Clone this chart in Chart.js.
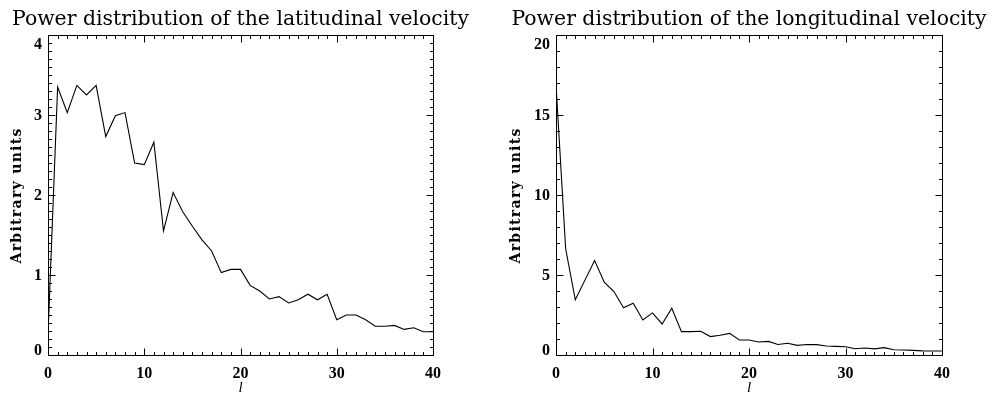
<!DOCTYPE html>
<html><head><meta charset="utf-8">
<script src="https://cdn.jsdelivr.net/npm/chart.js@4"></script>
<style>
html,body{margin:0;padding:0;background:#fff;width:994px;height:401px;overflow:hidden}
canvas{position:absolute;top:0}
</style></head><body>
<canvas id="c1" width="497" height="401" style="left:0"></canvas>
<canvas id="c2" width="497" height="401" style="left:497px"></canvas>
<script>
// ---- data ----
const degrees = [0,1,2,3,4,5,6,7,8,9,10,11,12,13,14,15,16,17,18,19,20,21,22,23,24,25,26,27,28,29,30,31,32,33,34,35,36,37,38,39,40];
const latPower = [0.25,3.35,3.03,3.37,3.25,3.37,2.73,2.99,3.03,2.40,2.38,2.66,1.55,2.03,1.79,1.61,1.44,1.30,1.03,1.07,1.07,0.87,0.80,0.70,0.73,0.65,0.69,0.76,0.69,0.76,0.44,0.50,0.50,0.44,0.36,0.36,0.37,0.32,0.34,0.29,0.29];
const lonPower = [16.9,6.64,3.45,4.68,5.91,4.55,3.97,2.95,3.24,2.19,2.63,1.94,2.92,1.46,1.46,1.48,1.15,1.23,1.35,0.94,0.94,0.81,0.85,0.66,0.73,0.60,0.66,0.65,0.56,0.54,0.52,0.39,0.44,0.38,0.46,0.33,0.31,0.29,0.26,0.25,0.25];
const xTickLabels = [0,10,20,30,40];
const latTickLabels = [0,1,2,3,4];
const lonTickLabels = [0,5,10,15,20];
const latTitle = 'Power distribution of the latitudinal velocity';
const lonTitle = 'Power distribution of the longitudinal velocity';
const yAxisTitle = 'Arbitrary units';
const xAxisTitle = 'l';

const SERIF = "'DejaVu Serif', serif";
const TIMES = "'Liberation Serif', serif";

const framePlugin = {
  id: 'frame',
  afterDraw(chart, args, opts) {
    const {ctx, chartArea: {left, right, top, bottom}, scales: {x, y}} = chart;
    const L = Math.round(left) + 0.5, R = Math.round(right) + 0.5;
    const T = Math.round(top) + 0.5, B = Math.round(bottom) + 0.5;
    ctx.save();
    ctx.strokeStyle = '#000';
    ctx.lineWidth = 1;
    ctx.beginPath();
    ctx.rect(L, T, R - L, B - T);
    const nx = Math.round((x.max - x.min) / opts.xMinor);
    for (let i = 0; i <= nx; i++) {
      const v = x.min + i * opts.xMinor;
      const major = Math.abs(v / opts.xMajor - Math.round(v / opts.xMajor)) < 1e-6;
      const len = major ? opts.majorLen : opts.minorLen;
      const px = Math.round(x.getPixelForValue(v)) + 0.5;
      ctx.moveTo(px, B); ctx.lineTo(px, B - len);
      ctx.moveTo(px, T); ctx.lineTo(px, T + len);
    }
    const ny = Math.round((y.max - y.min) / opts.yMinor);
    for (let i = 0; i <= ny; i++) {
      const v = y.min + i * opts.yMinor;
      const major = Math.abs(v / opts.yMajor - Math.round(v / opts.yMajor)) < 1e-6;
      const len = major ? opts.majorLen : opts.minorLen;
      const py = Math.round(y.getPixelForValue(v)) + 0.5;
      ctx.moveTo(L, py); ctx.lineTo(L + len, py);
      ctx.moveTo(R, py); ctx.lineTo(R - len, py);
    }
    ctx.stroke();
    ctx.fillStyle = '#000';
    // chart title, centred over the plot frame
    ctx.font = '20.4px ' + SERIF;
    ctx.textAlign = 'center';
    ctx.textBaseline = 'middle';
    ctx.fillText(opts.title, (left + right) / 2, 19.5);
    // y tick labels (end labels kept inside the frame like the original)
    ctx.font = 'bold 16px ' + TIMES;
    ctx.textAlign = 'right';
    opts.yLabels.forEach(v => {
      let py = y.getPixelForValue(v);
      py = Math.max(top + 9, Math.min(bottom - 5, py));
      ctx.fillText(String(v), left - 6, py + 1);
    });
    // y axis title
    ctx.font = 'bold 14px ' + SERIF;
    ctx.letterSpacing = '1.3px';
    ctx.textAlign = 'center';
    ctx.translate(opts.yTitleX, (top + bottom) / 2 + 1);
    ctx.rotate(-Math.PI / 2);
    ctx.fillText(yAxisTitle, 0.6, 0);
    ctx.restore();
  }
};

function makeChart(id, values, yMax, yLabels, yMinor, yMajor, titleText, padLeft, yAxisW, rightPad, yTitleX) {
  return new Chart(document.getElementById(id), {
    type: 'line',
    data: {
      datasets: [{
        data: degrees.map((d, i) => ({x: d, y: values[i]})),
        borderColor: '#000',
        borderWidth: 1.1,
        pointRadius: 0,
        tension: 0,
        fill: false
      }]
    },
    options: {
      responsive: false,
      animation: false,
      devicePixelRatio: 1,
      layout: {padding: {left: padLeft, right: rightPad, top: 35, bottom: 0}},
      plugins: {
        legend: {display: false},
        tooltip: {enabled: false},
        title: {display: false},
        frame: {xMinor: 1, xMajor: 10, yMinor: yMinor, yMajor: yMajor, majorLen: 7, minorLen: 3.5,
                yLabels: yLabels, yTitleX: yTitleX, title: titleText}
      },
      scales: {
        x: {
          type: 'linear',
          min: 0, max: 40,
          afterBuildTicks: s => { s.ticks = xTickLabels.map(v => ({value: v})); },
          afterFit: s => { s.height = 46; },
          grid: {display: false, drawTicks: false, tickLength: 0},
          border: {display: false},
          ticks: {color: '#000', font: {family: TIMES, size: 16, weight: 'bold'}, padding: 9.5, maxRotation: 0},
          title: {display: true, text: xAxisTitle, color: '#000',
                  font: {family: TIMES, size: 15, style: 'italic'}, padding: {top: 0, bottom: 4}}
        },
        y: {
          type: 'linear',
          min: 0, max: yMax,
          afterBuildTicks: s => { s.ticks = yLabels.map(v => ({value: v})); },
          afterFit: s => { s.width = yAxisW; },
          grid: {display: false, drawTicks: false, tickLength: 0},
          border: {display: false},
          ticks: {display: false},
          title: {display: false}
        }
      }
    },
    plugins: [framePlugin]
  });
}

// left canvas spans 0..497, right canvas 497..994
makeChart('c1', latPower, 4, latTickLabels, 0.1, 1, latTitle, 0, 48, 64, 17.5);
makeChart('c2', lonPower, 20, lonTickLabels, 1, 5, lonTitle, 0, 59, 52, 19);
</script>
</body></html>
